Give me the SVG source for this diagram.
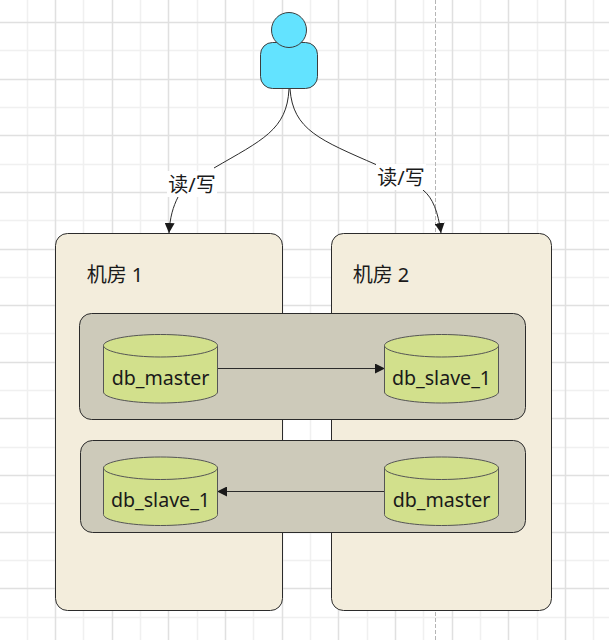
<svg xmlns="http://www.w3.org/2000/svg" width="609" height="640" viewBox="0 0 609 640">
<style>
.t{font-family:"Noto Sans","Noto Sans CJK SC",sans-serif;font-size:20px;fill:#1a1a1a;text-anchor:middle}
.d{font-size:19.6px}
.c{fill:none;stroke:#2b2b2b;stroke-width:1}
.g1{stroke:#e0e0e0;stroke-width:1.5;fill:none}
.g2{stroke:#f0f0f0;stroke-width:1.5;fill:none}
.room{fill:#f3eddc;stroke:#2b2b2b;stroke-width:1}
.band{fill:#cdcaba;stroke:#2b2b2b;stroke-width:1}
.db{fill:#d2e08c;stroke:#555;stroke-width:1}
.u{fill:#63e3ff;stroke:#3d3d3d;stroke-width:1}
.lb{fill:#fff}
</style>
<defs>
<marker id="a" markerWidth="12" markerHeight="10" refX="10" refY="5" orient="auto" markerUnits="userSpaceOnUse"><path d="M0 0L10 5L0 10Z" fill="#1a1a1a"/></marker>
</defs>
<rect width="609" height="640" fill="#fff"/>
<g id="grid">
<path class="g2" d="M27.500 0V640M83.500 0V640M140.500 0V640M197.500 0V640M253.500 0V640M310.500 0V640M367.500 0V640M423.500 0V640M480.500 0V640M537.500 0V640M593.500 0V640M0 50.500H609M0 107.500H609M0 164.500H609M0 220.500H609M0 277.500H609M0 333.500H609M0 390.500H609M0 447.500H609M0 503.500H609M0 560.500H609M0 617.500H609"/>
<path class="g1" d="M55.500 0V640M112.500 0V640M168.500 0V640M225.500 0V640M282.500 0V640M338.500 0V640M395.500 0V640M452.500 0V640M508.500 0V640M565.500 0V640M0 22.500H609M0 79.500H609M0 135.500H609M0 192.500H609M0 249.500H609M0 305.500H609M0 362.500H609M0 418.500H609M0 475.500H609M0 532.500H609M0 588.500H609"/>
<path d="M435.500 0V640" stroke="#b5b5b5" stroke-width="1" stroke-dasharray="4 2" fill="none"/>
</g>
<g id="room1"><rect class="room" x="55.500" y="233.500" width="227" height="377" rx="12"/><text class="t" x="115" y="282">机房 1</text></g>
<g id="room2"><rect class="room" x="331.500" y="233.500" width="220" height="377" rx="12"/><text class="t" x="381" y="282">机房 2</text></g>
<g id="band1"><rect class="band" x="79.500" y="313.500" width="446" height="106" rx="12"/></g>
<g id="band2"><rect class="band" x="80.500" y="440.500" width="445" height="92" rx="12"/></g>
<g id="user">
<rect class="u" x="260.500" y="42.500" width="57" height="46" rx="12"/>
<circle class="u" cx="289" cy="30" r="17.500"/>
</g>
<g id="connectors">
<path class="c" d="M289 89C287 130 262 140 214 168"/>
<path class="c" d="M178 197C173 207 170 217 169 233" marker-end="url(#a)"/>
<path class="c" d="M290 89C293 130 320 140 377 165"/>
<path class="c" d="M423 190C433 198 438 212 441 233" marker-end="url(#a)"/>
<path class="c" d="M218 368.500H385" marker-end="url(#a)"/>
<path class="c" d="M384 491.500H217" marker-end="url(#a)"/>
</g>
<g id="label1"><rect class="lb" x="167" y="171" width="50" height="26"/><text class="t" x="192" y="192">读/写</text></g>
<g id="label2"><rect class="lb" x="376" y="164" width="50" height="26"/><text class="t" x="401" y="185">读/写</text></g>
<g id="db1">
<path class="db" d="M103.500 345.500V392C103.500 398 129 403 160.500 403S217.500 398 217.500 392V345.500C217.500 339.500 192 334.500 160.500 334.500S103.500 339.500 103.500 345.500Z"/>
<path class="db" d="M103.500 345.500C103.500 351.500 129 357 160.500 357S217.500 351.500 217.500 345.500"/>
<text class="t d" x="160.500" y="385">db_master</text>
</g>
<g id="db2">
<path class="db" d="M384.500 345.500V392C384.500 398 410 403 441.500 403S498.500 398 498.500 392V345.500C498.500 339.500 473 334.500 441.500 334.500S384.500 339.500 384.500 345.500Z"/>
<path class="db" d="M384.500 345.500C384.500 351.500 410 357 441.500 357S498.500 351.500 498.500 345.500"/>
<text class="t d" x="441.500" y="385">db_slave_1</text>
</g>
<g id="db3">
<path class="db" d="M103.500 468V514.500C103.500 520.500 129 525.500 160.500 525.500S217.500 520.500 217.500 514.500V468C217.500 462 192 457 160.500 457S103.500 462 103.500 468Z"/>
<path class="db" d="M103.500 468C103.500 474 129 479.500 160.500 479.500S217.500 474 217.500 468"/>
<text class="t d" x="160.500" y="507">db_slave_1</text>
</g>
<g id="db4">
<path class="db" d="M384.500 468V514.500C384.500 520.500 410 525.500 441.500 525.500S498.500 520.500 498.500 514.500V468C498.500 462 473 457 441.500 457S384.500 462 384.500 468Z"/>
<path class="db" d="M384.500 468C384.500 474 410 479.500 441.500 479.500S498.500 474 498.500 468"/>
<text class="t d" x="441.500" y="507">db_master</text>
</g>
</svg>
